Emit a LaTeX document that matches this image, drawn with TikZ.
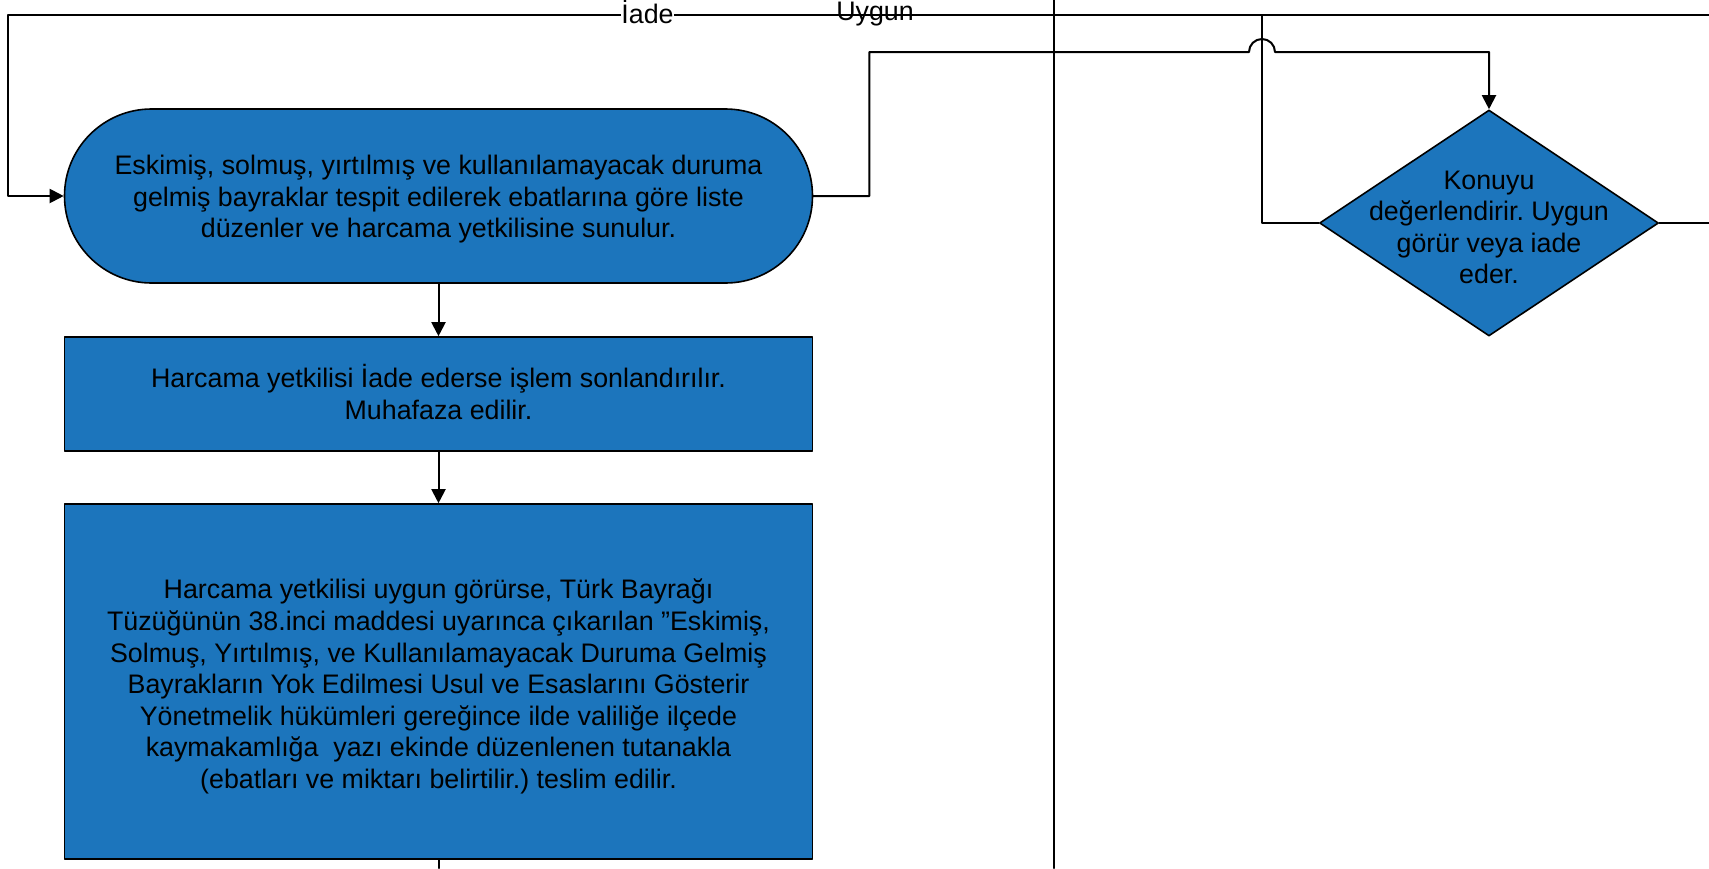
\documentclass[tikz,border=0pt]{standalone}
\usepackage{fontspec}
\setmainfont{Liberation Sans}
\frenchspacing
\usetikzlibrary{arrows.meta,shapes.geometric}
\definecolor{akismavi}{RGB}{28,117,188}

\begin{document}
\begin{tikzpicture}[line cap=round,line join=round,x=0.5pt,y=-0.5pt,
    yazi/.style={font=\fontsize{13.4}{15.8}\selectfont},
    kutu/.style={yazi,draw=black,line width=0.8pt,fill=akismavi,align=center,inner sep=0pt},
    basla/.style={kutu,rounded corners=43.5pt,minimum width=374pt,minimum height=87pt},
    islem/.style={kutu,minimum width=374pt},
    karar/.style={kutu,diamond,minimum width=169.5pt,minimum height=113pt},
    etiket/.style={yazi,inner sep=0pt},
    ok/.style={line width=1pt,-{Triangle[length=7pt,width=7pt]}},
    cizgi/.style={line width=1pt}]
    \useasboundingbox (0,0) rectangle (1709,868);

    \node[basla] (tespit) at (438.5,196) {\rule{0pt}{13pt}Eskimiş, solmuş, yırtılmış ve kullanılamayacak duruma\\
      gelmiş bayraklar tespit edilerek ebatlarına göre liste\\
      düzenler ve harcama yetkilisine sunulur.};
    \node[islem,minimum height=57pt] (muhafaza) at (438.5,394) {Harcama yetkilisi İade ederse işlem sonlandırılır.\\
      Muhafaza edilir.\rule[-2.2pt]{0pt}{0pt}};
    \node[islem,minimum height=177.5pt] (teslim) at (438.5,681.5) {\rule{0pt}{15pt}Harcama yetkilisi uygun görürse, Türk Bayrağı\\
      Tüzüğünün 38.inci maddesi uyarınca çıkarılan ”Eskimiş,\\
      Solmuş, Yırtılmış, ve Kullanılamayacak Duruma Gelmiş\\
      Bayrakların Yok Edilmesi Usul ve Esaslarını Gösterir\\
      Yönetmelik hükümleri gereğince ilde valiliğe ilçede\\
      kaymakamlığa~ yazı ekinde düzenlenen tutanakla\\
      (ebatları ve miktarı belirtilir.) teslim edilir.};
    \node[karar,label={[etiket,align=center,yshift=-2.2pt]center:Konuyu\\değerlendirir. Uygun\\görür veya iade\\eder.}] (karar) at (1489,223) {};

    \coordinate (kopru) at (1249,52);
    \coordinate (iadekose) at (1262,15);
    \coordinate (solkose) at (8,15);
    \coordinate (sagust) at (1709,15);
    \coordinate (sagalt) at (1709,223);
    \coordinate (altuc) at (438.5,868);

    \draw[cizgi] (1054,0) -- (1054,868);

    \draw[ok] (tespit.south) -- (muhafaza.north);
    \draw[ok] (muhafaza.south) -- (teslim.north);
    \draw[cizgi] (teslim.south) -- (altuc);

    \draw[ok] (tespit.east) -- ++(56,0) |- (kopru) arc[start angle=180,end angle=0,radius=6.5pt] -| (karar.north);
    \draw[ok] (karar.west) -| (iadekose) -- node[etiket,fill=white,pos=0.49,yshift=1.5pt] (iade) {İade} (solkose) |- (tespit.west);
    \draw[cizgi] (sagust) -- (iadekose);
    \draw[cizgi] (karar.east) -- (sagalt);
    \node[etiket] (uygun) at (875,14) {Uygun};
  \end{tikzpicture}
\end{document}
